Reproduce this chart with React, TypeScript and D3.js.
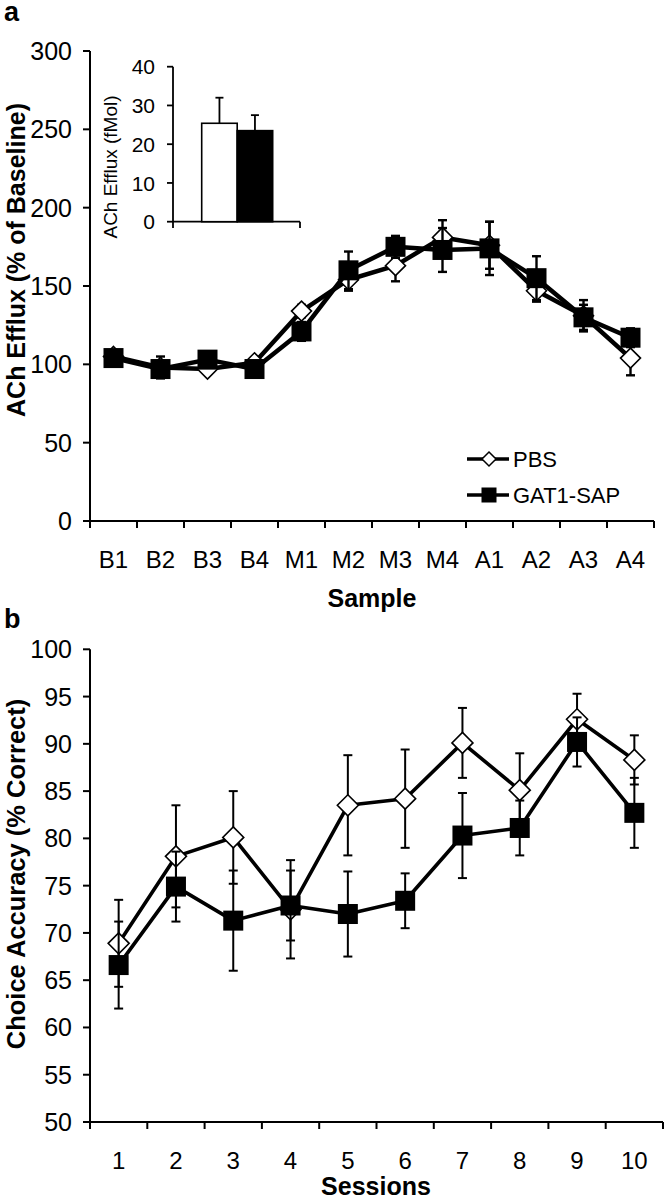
import React from "react";
import * as d3 from "d3";

// ---------- Panel a data ----------
const samples = ["B1", "B2", "B3", "B4", "M1", "M2", "M3", "M4", "A1", "A2", "A3", "A4"];
const pbsEfflux = [105, 98, 97, 101, 134, 154, 163, 181, 176, 147, 131, 104];
const pbsEffluxErr = [3, 7, 3, 3, 4, 7, 10, 11, 15, 7, 10, 11];
const gatEfflux = [104, 97, 103, 97, 121, 160, 175, 173, 174, 155, 130, 117];
const gatEffluxErr = [3, 3, 3, 3, 6, 12, 7, 14, 17, 14, 8, 6];
const effluxTicks = [0, 50, 100, 150, 200, 250, 300];

// Inset
const insetGroups = ["PBS", "GAT1-SAP"];
const insetValues = [25.4, 23.5];
const insetErr = [6.6, 4.0];
const insetTicks = [0, 10, 20, 30, 40];

// ---------- Panel b data ----------
const sessions = ["1", "2", "3", "4", "5", "6", "7", "8", "9", "10"];
const pbsAcc = [68.9, 78.1, 80.1, 72.5, 83.5, 84.2, 90.1, 85.1, 92.6, 88.3];
const pbsAccErr = [4.6, 5.4, 4.9, 5.2, 5.3, 5.2, 3.7, 3.9, 2.7, 2.6];
const gatAcc = [66.6, 74.9, 71.3, 72.9, 72.0, 73.4, 80.3, 81.1, 90.2, 82.7];
const gatAccErr = [4.6, 3.7, 5.3, 3.7, 4.5, 2.9, 4.5, 2.9, 2.6, 3.7];
const accTicks = [50, 55, 60, 65, 70, 75, 80, 85, 90, 95, 100];

const FONT = "'Liberation Sans', Arial, Helvetica, sans-serif";

function Diamond({ x, y, r, sw }: { x: number; y: number; r: number; sw: number }) {
  return (
    <polygon
      points={`${x},${y - r} ${x + r},${y} ${x},${y + r} ${x - r},${y}`}
      fill="#fff"
      stroke="#000"
      strokeWidth={sw}
    />
  );
}

function Square({ x, y, s }: { x: number; y: number; s: number }) {
  return <rect x={x - s / 2} y={y - s / 2} width={s} height={s} fill="#000" />;
}

function Series({
  cats,
  vals,
  errs,
  xs,
  ys,
  lineW,
  errW,
  cap,
  marker,
  msize,
}: any) {
  const line = d3
    .line<number>()
    .x((_, i) => (xs(cats[i]) as number) + xs.bandwidth() / 2)
    .y((d) => ys(d));
  return (
    <g>
      {vals.map((v: number, i: number) => {
        const cx = (xs(cats[i]) as number) + xs.bandwidth() / 2;
        const y1 = ys(v + errs[i]);
        const y2 = ys(v - errs[i]);
        return (
          <g key={"e" + i} stroke="#000" strokeWidth={errW}>
            <line x1={cx} x2={cx} y1={y1} y2={y2} />
            <line x1={cx - cap} x2={cx + cap} y1={y1} y2={y1} />
            <line x1={cx - cap} x2={cx + cap} y1={y2} y2={y2} />
          </g>
        );
      })}
      <path d={line(vals) || ""} fill="none" stroke="#000" strokeWidth={lineW} strokeLinejoin="round" />
      {vals.map((v: number, i: number) => {
        const cx = (xs(cats[i]) as number) + xs.bandwidth() / 2;
        return marker === "diamond" ? (
          <Diamond key={"m" + i} x={cx} y={ys(v)} r={msize / 2} sw={1.6} />
        ) : (
          <Square key={"m" + i} x={cx} y={ys(v)} s={msize} />
        );
      })}
    </g>
  );
}

export default function App() {
  // Panel a scales
  const xa = d3.scaleBand<string>().domain(samples).range([90, 654]).padding(0);
  const ya = d3.scaleLinear().domain([0, 300]).range([521, 51]);
  // Inset scales
  const yi = d3.scaleLinear().domain([0, 40]).range([221.7, 66.7]);
  const xi = d3.scaleBand<string>().domain(insetGroups).range([201.7, 272.7]).padding(0);
  // Panel b scales
  const xb = d3.scaleBand<string>().domain(sessions).range([90, 663]).padding(0);
  const yb = d3.scaleLinear().domain([50, 100]).range([1122, 649.3]);

  const aBounds = [...samples.map((s) => xa(s) as number), 654];
  const bBounds = [...sessions.map((s) => xb(s) as number), 663];

  return (
    <svg
      width={664}
      height={1199}
      style={{ position: "absolute", left: 0, top: 0, background: "#fff" }}
      fontFamily={FONT}
    >
      <rect width={664} height={1199} fill="#fff" />
      {/* ===== Panel a ===== */}
      <text x={4} y={21} fontSize={27} fontWeight="bold">a</text>
      {/* y axis */}
      <line x1={90} x2={90} y1={51} y2={521} stroke="#000" strokeWidth={2} />
      {effluxTicks.map((t) => (
        <g key={"ya" + t}>
          <line x1={83} x2={90} y1={ya(t)} y2={ya(t)} stroke="#000" strokeWidth={2} />
          <text x={72} y={ya(t)} dy="0.36em" textAnchor="end" fontSize={25}>{t}</text>
        </g>
      ))}
      {/* x axis */}
      <line x1={90} x2={654} y1={521} y2={521} stroke="#000" strokeWidth={2} />
      {aBounds.map((b, i) => (
        <line key={"xa" + i} x1={b} x2={b} y1={521} y2={528} stroke="#000" strokeWidth={2} />
      ))}
      {samples.map((s) => (
        <text key={"xl" + s} x={(xa(s) as number) + xa.bandwidth() / 2} y={568} textAnchor="middle" fontSize={24}>
          {s}
        </text>
      ))}
      <text x={372} y={607} textAnchor="middle" fontSize={25} fontWeight="bold">Sample</text>
      <text
        transform={`translate(25,260) rotate(-90)`}
        textAnchor="middle"
        fontSize={25}
        fontWeight="bold"
      >
        ACh Efflux (% of Baseline)
      </text>

      {/* Inset */}
      <line x1={173} x2={173} y1={66.7} y2={228} stroke="#000" strokeWidth={1.8} />
      <line x1={173} x2={300} y1={221.7} y2={221.7} stroke="#000" strokeWidth={1.8} />
      <line x1={300} x2={300} y1={221.7} y2={228} stroke="#000" strokeWidth={1.8} />
      {insetTicks.map((t) => (
        <g key={"yi" + t}>
          <line x1={167} x2={173} y1={yi(t)} y2={yi(t)} stroke="#000" strokeWidth={1.8} />
          <text x={155} y={yi(t)} dy="0.36em" textAnchor="end" fontSize={21}>{t}</text>
        </g>
      ))}
      {insetGroups.map((g, i) => {
        const x0 = xi(g) as number;
        const w = xi.bandwidth();
        const cx = x0 + w / 2;
        const top = yi(insetValues[i]);
        const et = yi(insetValues[i] + insetErr[i]);
        return (
          <g key={"bar" + g}>
            <line x1={cx} x2={cx} y1={top} y2={et} stroke="#000" strokeWidth={1.8} />
            <line x1={cx - 4} x2={cx + 4} y1={et} y2={et} stroke="#000" strokeWidth={1.8} />
            <rect
              x={x0}
              y={top}
              width={w}
              height={yi(0) - top}
              fill={i === 0 ? "#fff" : "#000"}
              stroke="#000"
              strokeWidth={1.6}
            />
          </g>
        );
      })}
      <text
        transform={`translate(117,167) rotate(-90)`}
        textAnchor="middle"
        fontSize={18}
        textLength={143}
        lengthAdjust="spacingAndGlyphs"
      >
        ACh Efflux (fMol)
      </text>

      {/* Series panel a */}
      <Series cats={samples} vals={pbsEfflux} errs={pbsEffluxErr} xs={xa} ys={ya} lineW={4.5} errW={2.4} cap={4.5} marker="diamond" msize={20} />
      <Series cats={samples} vals={gatEfflux} errs={gatEffluxErr} xs={xa} ys={ya} lineW={4.5} errW={2.4} cap={4.5} marker="square" msize={20} />

      {/* Legend */}
      <line x1={467} x2={509} y1={459} y2={459} stroke="#000" strokeWidth={3.5} />
      <Diamond x={489} y={459} r={7} sw={1.5} />
      <text x={513} y={467} fontSize={22}>PBS</text>
      <line x1={467} x2={509} y1={495} y2={495} stroke="#000" strokeWidth={3.5} />
      <Square x={489} y={495} s={15} />
      <text x={513} y={503} fontSize={22}>GAT1-SAP</text>

      {/* ===== Panel b ===== */}
      <text x={4} y={628} fontSize={27} fontWeight="bold">b</text>
      <line x1={90} x2={90} y1={649.3} y2={1122} stroke="#000" strokeWidth={2} />
      {accTicks.map((t) => (
        <g key={"yb" + t}>
          <line x1={83} x2={90} y1={yb(t)} y2={yb(t)} stroke="#000" strokeWidth={2} />
          <text x={72} y={yb(t)} dy="0.36em" textAnchor="end" fontSize={25}>{t}</text>
        </g>
      ))}
      <line x1={90} x2={663} y1={1122} y2={1122} stroke="#000" strokeWidth={2} />
      {bBounds.map((b, i) => (
        <line key={"xb" + i} x1={b} x2={b} y1={1122} y2={1129} stroke="#000" strokeWidth={2} />
      ))}
      {sessions.map((s) => (
        <text key={"xs" + s} x={(xb(s) as number) + xb.bandwidth() / 2} y={1169} textAnchor="middle" fontSize={24}>
          {s}
        </text>
      ))}
      <text x={376} y={1195} textAnchor="middle" fontSize={25} fontWeight="bold">Sessions</text>
      <text
        transform={`translate(25,874) rotate(-90)`}
        textAnchor="middle"
        fontSize={25.5}
        fontWeight="bold"
      >
        Choice Accuracy (% Correct)
      </text>

      <Series cats={sessions} vals={pbsAcc} errs={pbsAccErr} xs={xb} ys={yb} lineW={3.6} errW={2} cap={4.5} marker="diamond" msize={21} />
      <Series cats={sessions} vals={gatAcc} errs={gatAccErr} xs={xb} ys={yb} lineW={3.6} errW={2} cap={4.5} marker="square" msize={20} />
    </svg>
  );
}
